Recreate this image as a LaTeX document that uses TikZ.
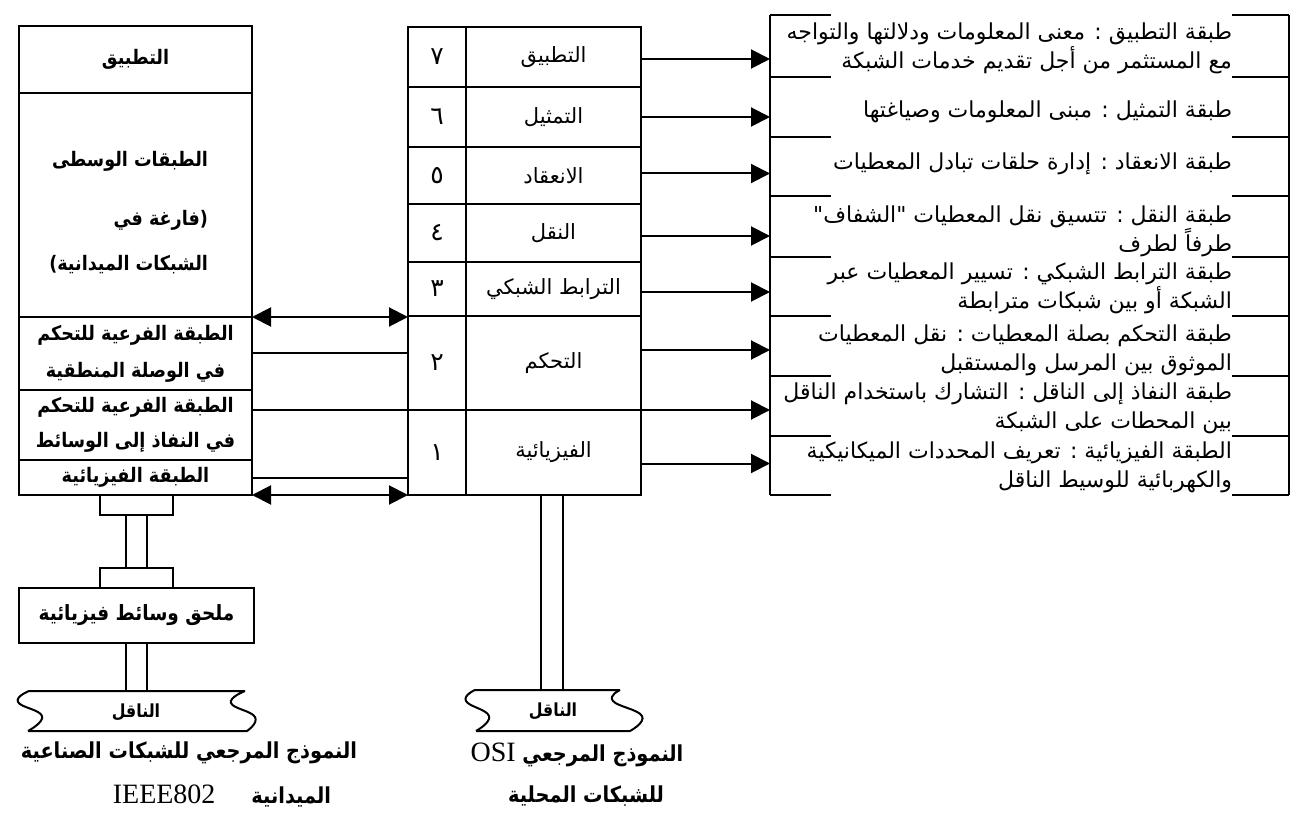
\documentclass[tikz,border=0pt]{standalone}
\usepackage{fontspec}
\usetikzlibrary{arrows.meta,calc}
\TeXXeTstate=1
\newfontfamily\arfont[Script=Arabic]{DejaVu Sans}
\newfontfamily\arbfont[Script=Arabic,FakeStretch=0.88]{DejaVu Sans}
\newfontfamily\digfont{DejaVu Sans}
\newfontfamily\tmsfont{Liberation Serif}
\newcommand{\AR}[1]{\beginR #1\endR}
\begin{document}
\begin{tikzpicture}[x=1pt,y=-1pt,
  >={Triangle[length=19pt,width=19pt]},
  every node/.style={inner sep=0pt, outer sep=0pt},
  lw/.style={line width=2pt},
  cell/.style={draw, line width=2pt, rectangle, inner sep=0pt, outer sep=0pt},
  hid/.style={rectangle, inner sep=0pt, outer sep=0pt},
  ar/.style={font=\arfont\fontsize{21}{36}\selectfont, align=center},
  arb/.style={font=\arbfont\bfseries\fontsize{20}{36}\selectfont, align=center},
  num/.style={font=\digfont\fontsize{25}{30}\selectfont},
  rt/.style={font=\arfont\fontsize{22}{29}\selectfont, align=right, anchor=east},
  captxt/.style={font=\arbfont\bfseries\fontsize{22}{40}\selectfont, align=center},
]
\useasboundingbox (0,0) rectangle (1299,826);

% ---------- left stack (IEEE 802 / fieldbus) ----------
\node[cell, minimum width=233pt, minimum height=67pt, arb] (LAPP) at (135.5,59.5) {\AR{التطبيق}};
\node[cell, minimum width=233pt, minimum height=224pt] (LMID) at (135.5,205) {};
\node[arb, align=right, anchor=east, font=\arbfont\bfseries\fontsize{20}{45}\selectfont] (LMIDt) at (208,213)
  {\AR{الطبقات الوسطى}\\[14pt]\AR{(فارغة في}\\\AR{الشبكات الميدانية)}};
\node[cell, minimum width=233pt, minimum height=73pt, arb, font=\arbfont\bfseries\fontsize{20}{37}\selectfont] (LLLC) at (135.5,353.5)
  {\AR{الطبقة الفرعية للتحكم}\\\AR{في الوصلة المنطقية}};
\node[cell, minimum width=233pt, minimum height=70pt, arb, font=\arbfont\bfseries\fontsize{20}{35}\selectfont] (LMAC) at (135.5,425)
  {\AR{الطبقة الفرعية للتحكم}\\\AR{في النفاذ إلى الوسائط}};
\node[cell, minimum width=233pt, minimum height=35pt, arb] (LPHY) at (135.5,477.5) {\AR{الطبقة الفيزيائية}};

\node[cell, minimum width=73pt, minimum height=20pt] (C1) at (136.5,505) {};
\node[cell, minimum width=73pt, minimum height=20pt] (C2) at (136.5,578) {};
\node[cell, minimum width=235pt, minimum height=55pt, arb, font=\arbfont\bfseries\fontsize{21}{30}\selectfont] (ATT) at (136.5,615.5) {\AR{ملحق وسائط فيزيائية}};
\coordinate (LMEDtop) at (136.5,691);
\node[arb, font=\arbfont\bfseries\fontsize{18}{30}\selectfont] (LMED) at (136,712) {\AR{الناقل}};

\draw[lw] ([xshift=-10.5pt]C1.south) -- ([xshift=-10.5pt]C2.north);
\draw[lw] ([xshift=10.5pt]C1.south) -- ([xshift=10.5pt]C2.north);
\draw[lw] ([xshift=-10.5pt]ATT.south) -- ([xshift=-10.5pt]LMEDtop);
\draw[lw] ([xshift=10.5pt]ATT.south) -- ([xshift=10.5pt]LMEDtop);
\draw[lw] (29,691) -- (245,691)
  plot[smooth,tension=0.8] coordinates {(245,691) (231,703) (255,717) (247,731)}
  -- (28,731)
  plot[smooth,tension=0.8] coordinates {(28,731) (42,716) (18,702) (29,691)};

\node[captxt] (LCAP1) at (189,753) {\AR{النموذج المرجعي للشبكات الصناعية}};
\node[captxt, anchor=east] (LCAP2) at (331,796)
  {\AR{الميدانية\hspace{36pt}\beginL{\tmsfont\mdseries\fontsize{28}{40}\selectfont IEEE802}\endL}};

% ---------- middle stack (OSI) ----------
\node[cell, minimum width=58pt, minimum height=60pt, num] (N7) at (437,57) {٧};
\node[cell, minimum width=58pt, minimum height=60pt, num] (N6) at (437,117) {٦};
\node[cell, minimum width=58pt, minimum height=57pt, num] (N5) at (437,175.5) {٥};
\node[cell, minimum width=58pt, minimum height=58pt, num] (N4) at (437,233) {٤};
\node[cell, minimum width=58pt, minimum height=54pt, num] (N3) at (437,289) {٣};
\node[cell, minimum width=58pt, minimum height=94pt, num] (N2) at (437,363) {٢};
\node[cell, minimum width=58pt, minimum height=85pt, num] (N1) at (437,452.5) {١};

\node[cell, minimum width=175pt, minimum height=60pt, ar] (M7) at (553.5,57) {\AR{التطبيق}};
\node[cell, minimum width=175pt, minimum height=60pt, ar] (M6) at (553.5,117) {\AR{التمثيل}};
\node[cell, minimum width=175pt, minimum height=57pt, ar] (M5) at (553.5,175.5) {\AR{الانعقاد}};
\node[cell, minimum width=175pt, minimum height=58pt, ar] (M4) at (553.5,233) {\AR{النقل}};
\node[cell, minimum width=175pt, minimum height=54pt, ar] (M3) at (553.5,289) {\AR{الترابط الشبكي}};
\node[cell, minimum width=175pt, minimum height=94pt, ar] (M2) at (553.5,363) {\AR{التحكم}};
\node[cell, minimum width=175pt, minimum height=85pt, ar] (M1) at (553.5,452.5) {\AR{الفيزيائية}};

\coordinate (MMEDtop) at (552,690);
\node[arb, font=\arbfont\bfseries\fontsize{18}{30}\selectfont] (MMED) at (553,711) {\AR{الناقل}};
\draw[lw] ([xshift=-11pt]M1.south -| MMEDtop) -- ([xshift=-11pt]MMEDtop);
\draw[lw] ([xshift=11pt]M1.south -| MMEDtop) -- ([xshift=11pt]MMEDtop);
\draw[lw] (475,690) -- (620,690)
  plot[smooth,tension=0.8] coordinates {(620,690) (613,701) (642,716) (630,731)}
  -- (476,731)
  plot[smooth,tension=0.8] coordinates {(476,731) (489,716) (466,701) (475,690)};

\node[captxt] (MCAP1) at (577,755)
  {\AR{النموذج المرجعي \beginL{\tmsfont\mdseries\fontsize{28}{40}\selectfont OSI}\endL}};
\node[captxt] (MCAP2) at (586,796) {\AR{للشبكات المحلية}};

% ---------- right column (descriptions) ----------
\node[hid, minimum width=519pt, minimum height=62pt] (R1) at (1029.5,46) {};
\node[hid, minimum width=519pt, minimum height=60pt] (R2) at (1029.5,107) {};
\node[hid, minimum width=519pt, minimum height=59pt] (R3) at (1029.5,166.5) {};
\node[hid, minimum width=519pt, minimum height=61pt] (R4) at (1029.5,226.5) {};
\node[hid, minimum width=519pt, minimum height=59pt] (R5) at (1029.5,286.5) {};
\node[hid, minimum width=519pt, minimum height=60pt] (R6) at (1029.5,346) {};
\node[hid, minimum width=519pt, minimum height=60pt] (R7) at (1029.5,406) {};
\node[hid, minimum width=519pt, minimum height=59pt] (R8) at (1029.5,465.5) {};

\draw[lw] (R1.north west) -- (R8.south west);
\draw[lw] (R1.north east) -- (R8.south east);
\foreach \r/\a in {R1/north,R1/south,R2/south,R3/south,R4/south,R5/south,R6/south,R7/south,R8/south}{
  \draw[lw] (\r.\a\space west) -- ++(61,0);
  \draw[lw] (\r.\a\space east) -- ++(-57,0);
}
\coordinate (tx) at (1232,0);
\node[rt] (T1) at ([yshift=-2pt]R1.west -| tx) {\AR{طبقة التطبيق : معنى المعلومات ودلالتها والتواجه}\\\AR{مع المستثمر من أجل تقديم خدمات الشبكة}};
\node[rt] (T2) at ([yshift=-5pt]R2.west -| tx) {\AR{طبقة التمثيل : مبنى المعلومات وصياغتها}};
\node[rt] (T3) at ([yshift=3pt]R3.west -| tx) {\AR{طبقة الانعقاد : إدارة حلقات تبادل المعطيات}};
\node[rt] (T4) at ([yshift=-5pt]R4.west -| tx) {\AR{طبقة النقل : تتسيق نقل المعطيات "الشفاف"}\\\AR{طرفاً لطرف}};
\node[rt] (T5) at ([yshift=-2pt]R5.west -| tx) {\AR{طبقة الترابط الشبكي : تسيير المعطيات عبر}\\\AR{الشبكة أو بين شبكات مترابطة}};
\node[rt] (T6) at ([yshift=-4pt]R6.west -| tx) {\AR{طبقة التحكم بصلة المعطيات : نقل المعطيات}\\\AR{الموثوق بين المرسل والمستقبل}};
\node[rt] (T7) at ([yshift=-2pt]R7.west -| tx) {\AR{طبقة النفاذ إلى الناقل : التشارك باستخدام الناقل}\\\AR{بين المحطات على الشبكة}};
\node[rt] (T8) at ([yshift=-2pt]R8.west -| tx) {\AR{الطبقة الفيزيائية : تعريف المحددات الميكانيكية}\\\AR{والكهربائية للوسيط الناقل}};

% ---------- connectors ----------
\draw[lw,<->] (LMID.south east) -- (LMID.south east -| N3.west);
\draw[lw] (LLLC.east) -- (LLLC.east -| N2.west);
\draw[lw,->] (LMAC.east |- M1.north) -- (M1.north -| R7.west);
\draw[lw] (LPHY.east) -- (LPHY.east -| N1.west);
\draw[lw,<->] (LPHY.south east) -- (LPHY.south east -| N1.west);

\draw[lw,->] ([yshift=-2pt]M7.east) -- ([yshift=-2pt]M7.east -| R1.west);
\draw[lw,->] (M6.east) -- (M6.east -| R2.west);
\draw[lw,->] ([yshift=2pt]M5.east) -- ([yshift=2pt]M5.east -| R3.west);
\draw[lw,->] ([yshift=-3pt]M4.east) -- ([yshift=-3pt]M4.east -| R4.west);
\draw[lw,->] ([yshift=-3pt]M3.east) -- ([yshift=-3pt]M3.east -| R5.west);
\draw[lw,->] ([yshift=-4pt]M2.east |- R6.west) -- ([yshift=-4pt]R6.west);
\draw[lw,->] ([yshift=2pt]M1.east |- R8.west) -- ([yshift=2pt]R8.west);
\end{tikzpicture}
\end{document}
